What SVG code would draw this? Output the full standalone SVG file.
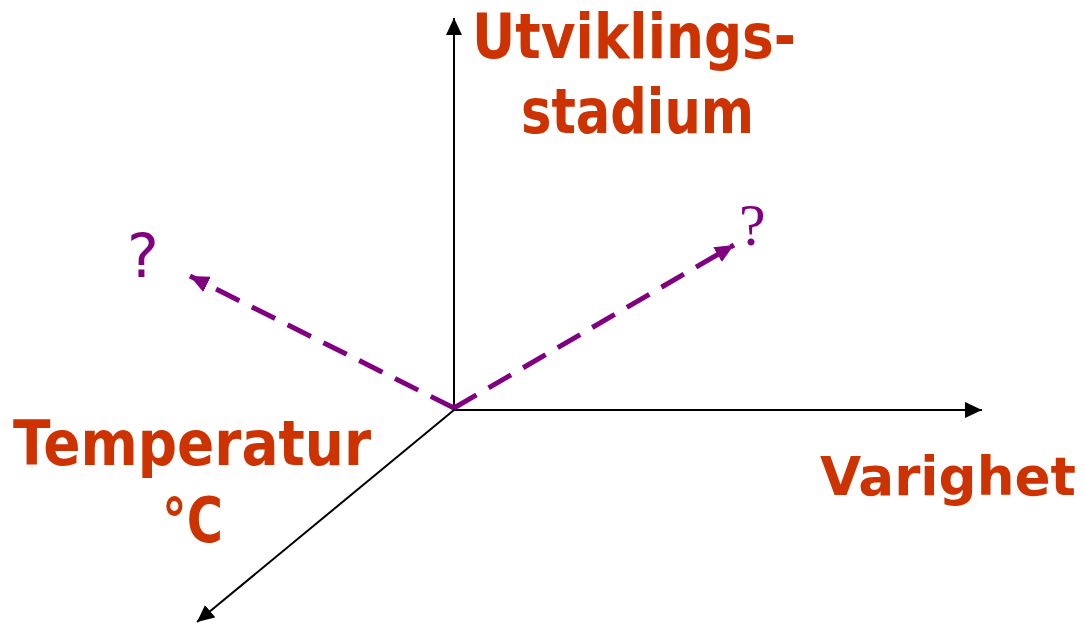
<svg xmlns="http://www.w3.org/2000/svg" width="1086" height="624" viewBox="0 0 1086 624">
<style>
.lbl{font-family:"Comic Sans MS","DejaVu Sans",sans-serif;font-weight:bold;fill:#CC3300;font-size:62px}
.axis{stroke:#000;stroke-width:2;fill:none}
.dash{stroke:#800080;stroke-width:5;stroke-dasharray:26 14;fill:none}
.q{fill:#800080}
</style>
<defs>
<marker id="ah" viewBox="0 0 10 10" refX="10" refY="5" markerWidth="17" markerHeight="16" markerUnits="userSpaceOnUse" orient="auto" preserveAspectRatio="none">
<path d="M0,0 L10,5 L0,10 Z" fill="#000"/>
</marker>
<marker id="ahp" viewBox="0 0 10 10" refX="10" refY="5" markerWidth="19" markerHeight="17" markerUnits="userSpaceOnUse" orient="auto" preserveAspectRatio="none">
<path d="M0,0 L10,5 L0,10 Z" fill="#800080"/>
</marker>
</defs>
<g id="connectors">
<line class="axis" x1="454" y1="410" x2="454" y2="18" marker-end="url(#ah)"/>
<line class="axis" x1="454" y1="410" x2="982" y2="410" marker-end="url(#ah)"/>
<line class="axis" x1="454" y1="410" x2="197" y2="622" marker-end="url(#ah)"/>
<line class="dash" x1="454" y1="408" x2="190" y2="276" marker-end="url(#ahp)"/>
<line class="dash" x1="454" y1="408" x2="734" y2="245" marker-end="url(#ahp)"/>
</g>
<g id="utviklings">
<text class="lbl" x="472" y="58" textLength="324" lengthAdjust="spacingAndGlyphs">Utviklings-</text>
<text class="lbl" x="521" y="133" textLength="233" lengthAdjust="spacingAndGlyphs">stadium</text>
</g>
<g id="varighet">
<text class="lbl" x="820" y="495" font-size="54" style="font-size:54px" textLength="256" lengthAdjust="spacingAndGlyphs">Varighet</text>
</g>
<g id="temperatur">
<text class="lbl" x="13" y="465" textLength="358" lengthAdjust="spacingAndGlyphs">Temperatur</text>
<text class="lbl" x="162" y="542" textLength="61" lengthAdjust="spacingAndGlyphs">°C</text>
</g>
<g id="q-left">
<text class="q" x="127" y="277" font-family="DejaVu Sans, sans-serif" font-size="60">?</text>
</g>
<g id="q-right">
<text class="q" x="739" y="245" font-family="Liberation Serif, serif" font-size="60">?</text>
</g>
</svg>
